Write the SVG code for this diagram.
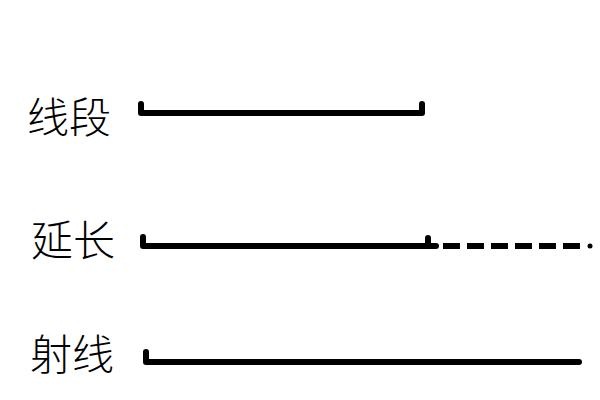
<svg xmlns="http://www.w3.org/2000/svg" width="600" height="400" viewBox="0 0 600 400">
<style>
.lbl{font-family:"Noto Sans CJK SC","Noto Sans",sans-serif;font-size:42px;font-weight:300;fill:#000}
.ln{stroke:#000;stroke-width:6;fill:none;stroke-linecap:round;stroke-linejoin:round}
.dash{stroke-dasharray:17 7;stroke-linecap:butt}
</style>
<rect width="600" height="400" fill="#fff"/>
<g id="segment">
<text class="lbl" x="27" y="133">线段</text>
<path class="ln" d="M141,104 V113 H422 V104"/>
</g>
<g id="extension">
<text class="lbl" x="31" y="256">延长</text>
<path class="ln" d="M143,237 V246 H436 M428,246 V238"/>
<path class="ln dash" d="M443,246 H584"/>
<circle cx="590" cy="246" r="2.5" fill="#000"/>
</g>
<g id="ray">
<text class="lbl" x="30" y="370">射线</text>
<path class="ln" d="M146,352 V362 H579"/>
</g>
</svg>
